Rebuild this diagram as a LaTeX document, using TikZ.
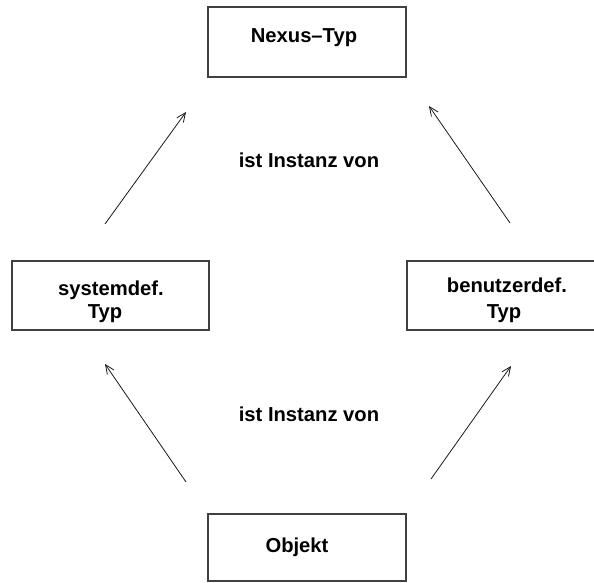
\documentclass[tikz,border=0pt]{standalone}
\usepackage{fontspec}
\setmainfont{Liberation Sans}
\usetikzlibrary{arrows.meta}
\begin{document}
\begin{tikzpicture}[x=1pt,y=-1pt,
  box/.style={draw=black!75,line width=1.3pt,rectangle},
  lbl/.style={anchor=base,inner sep=0pt,font=\fontsize{20.2}{24}\selectfont\bfseries},
  inst/.style={draw=black!90,line width=0.8pt,-{Straight Barb[length=9pt,width=8pt,line width=0.8pt]}}]
  \useasboundingbox (0,0) rectangle (594,583);

  % boxes
  \draw[box] (208,7) rectangle (406,77);
  \draw[box] (12,261) rectangle (209,330);
  \draw[box] (407,261) rectangle (604,330);
  \draw[box] (208,514) rectangle (406,581);

  % texts
  \node[lbl] (nexus) at (304,43) {Nexus–Typ};
  \node[lbl] (sysA) at (111,295) {systemdef.};
  \node[lbl] (sysB) at (105,318) {Typ};
  \node[lbl] (usrA) at (507,292) {benutzerdef.};
  \node[lbl] (usrB) at (504,318) {Typ};
  \node[lbl] (obj) at (297,552) {Objekt};
  \node[lbl] (instTop) at (309,167) {ist Instanz von};
  \node[lbl] (instBot) at (309,421) {ist Instanz von};

  % arrow end points
  \coordinate (sysUp) at (105,224);
  \coordinate (nexL) at (186,112);
  \coordinate (usrUp) at (510,223);
  \coordinate (nexR) at (429,106);
  \coordinate (objL) at (186,482);
  \coordinate (sysDn) at (105,364);
  \coordinate (objR) at (431,479);
  \coordinate (usrDn) at (511,366);

  % instance-of arrows
  \draw[inst] (sysUp) -- (nexL);
  \draw[inst] (usrUp) -- (nexR);
  \draw[inst] (objL) -- (sysDn);
  \draw[inst] (objR) -- (usrDn);
\end{tikzpicture}
\end{document}
